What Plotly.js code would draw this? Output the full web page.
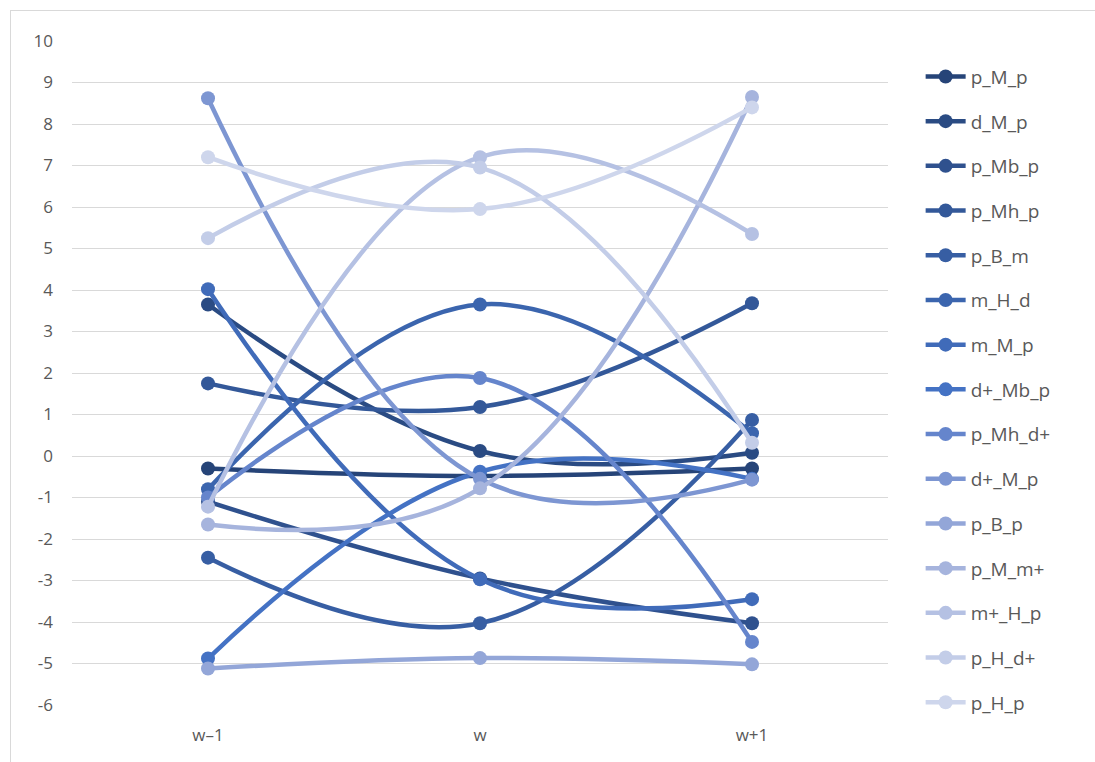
<!DOCTYPE html>
<html>
<head>
<meta charset="utf-8">
<script src="https://cdn.plot.ly/plotly-3.0.1.min.js"></script>
<style>
  html, body { margin: 0; padding: 0; background: #ffffff; }
  #frame { position: absolute; left: 10px; top: 10px; width: 1100px; height: 770px; border: 1px solid #d9d9d9; box-sizing: border-box; }
  #chart { position: absolute; left: 0; top: 0; width: 1095px; height: 762px; }
</style>
</head>
<body>
<div id="frame"></div>
<div id="chart"></div>
<script>
// Categories (x axis)
const categories = ['w\u20131', 'w', 'w+1'];

// Y tick values and labels (hyphen-minus, as in the reference)
const yTickValues = [10, 9, 8, 7, 6, 5, 4, 3, 2, 1, 0, -1, -2, -3, -4, -5, -6];
const yTickLabels = ['10', '9', '8', '7', '6', '5', '4', '3', '2', '1', '0', '-1', '-2', '-3', '-4', '-5', '-6'];

// Series names (legend order)
const seriesNames = ['p_M_p', 'd_M_p', 'p_Mb_p', 'p_Mh_p', 'p_B_m', 'm_H_d', 'm_M_p', 'd+_Mb_p',
                     'p_Mh_d+', 'd+_M_p', 'p_B_p', 'p_M_m+', 'm+_H_p', 'p_H_d+', 'p_H_p'];

// Series values
const p_M_p   = [-0.30, -0.48, -0.30];
const d_M_p   = [ 3.65,  0.12,  0.08];
const p_Mb_p  = [-1.10, -2.95, -4.03];
const p_Mh_p  = [ 1.75,  1.18,  3.68];
const p_B_m   = [-2.45, -4.03,  0.87];
const m_H_d   = [-0.80,  3.65,  0.55];
const m_M_p   = [ 4.02, -2.97, -3.45];
const dp_Mb_p = [-4.88, -0.38, -0.55];
const p_Mh_dp = [-1.00,  1.88, -4.48];
const dp_M_p  = [ 8.62, -0.55, -0.57];
const p_B_p   = [-5.12, -4.87, -5.02];
const p_M_mp  = [-1.65, -0.78,  8.65];
const mp_H_p  = [-1.22,  7.20,  5.35];
const p_H_dp  = [ 5.25,  6.95,  0.32];
const p_H_p   = [ 7.20,  5.95,  8.40];

const seriesValues = [p_M_p, d_M_p, p_Mb_p, p_Mh_p, p_B_m, m_H_d, m_M_p, dp_Mb_p,
                      p_Mh_dp, dp_M_p, p_B_p, p_M_mp, mp_H_p, p_H_dp, p_H_p];

const colors = ['#264478', '#2a4b83', '#2f518e', '#335899', '#375ea3', '#3b65ae', '#406bb9', '#4472c4',
                '#6585cc', '#7d96d2', '#93a6d8', '#a6b4dd', '#b5c1e3', '#c3cde8', '#ced6ec'];

const traces = seriesNames.map((name, i) => ({
  type: 'scatter',
  mode: 'lines+markers',
  name: name,
  legendgroup: name,
  x: categories,
  y: seriesValues[i],
  line: { color: colors[i], width: 4.5, shape: 'spline', smoothing: 1.15 },
  marker: { color: colors[i], size: 14, symbol: 'circle' },
  hoverinfo: 'x+y+name'
}));

const layout = {
  width: 1095,
  height: 762,
  margin: { l: 72, r: 207, t: 41, b: 57 },
  paper_bgcolor: 'rgba(0,0,0,0)',
  plot_bgcolor: '#ffffff',
  font: { family: 'Open Sans, Noto Sans, sans-serif', color: '#595959', size: 16 },
  showlegend: true,
  legend: {
    x: 1.04, xanchor: 'left',
    y: 0.975, yanchor: 'top',
    traceorder: 'grouped',
    tracegroupgap: 17,
    itemwidth: 40,
    maxheight: 740,
    font: { size: 19, color: '#595959' },
    bgcolor: 'rgba(0,0,0,0)'
  },
  xaxis: {
    type: 'category',
    range: [-0.5, 2.5],
    showgrid: false,
    zeroline: false,
    showline: false,
    ticks: '',
    ticklabelstandoff: 18,
    tickfont: { size: 17, color: '#595959' },
    fixedrange: true
  },
  yaxis: {
    range: [-6, 10],
    tickmode: 'array',
    tickvals: yTickValues,
    ticktext: yTickLabels,
    showgrid: true,
    gridcolor: '#d9d9d9',
    gridwidth: 1,
    zeroline: false,
    showline: false,
    ticks: '',
    ticklabelstandoff: 18,
    tickfont: { size: 17, color: '#595959' },
    fixedrange: true
  }
};

Plotly.newPlot('chart', traces, layout, { displayModeBar: false, staticPlot: true });
</script>
</body>
</html>
